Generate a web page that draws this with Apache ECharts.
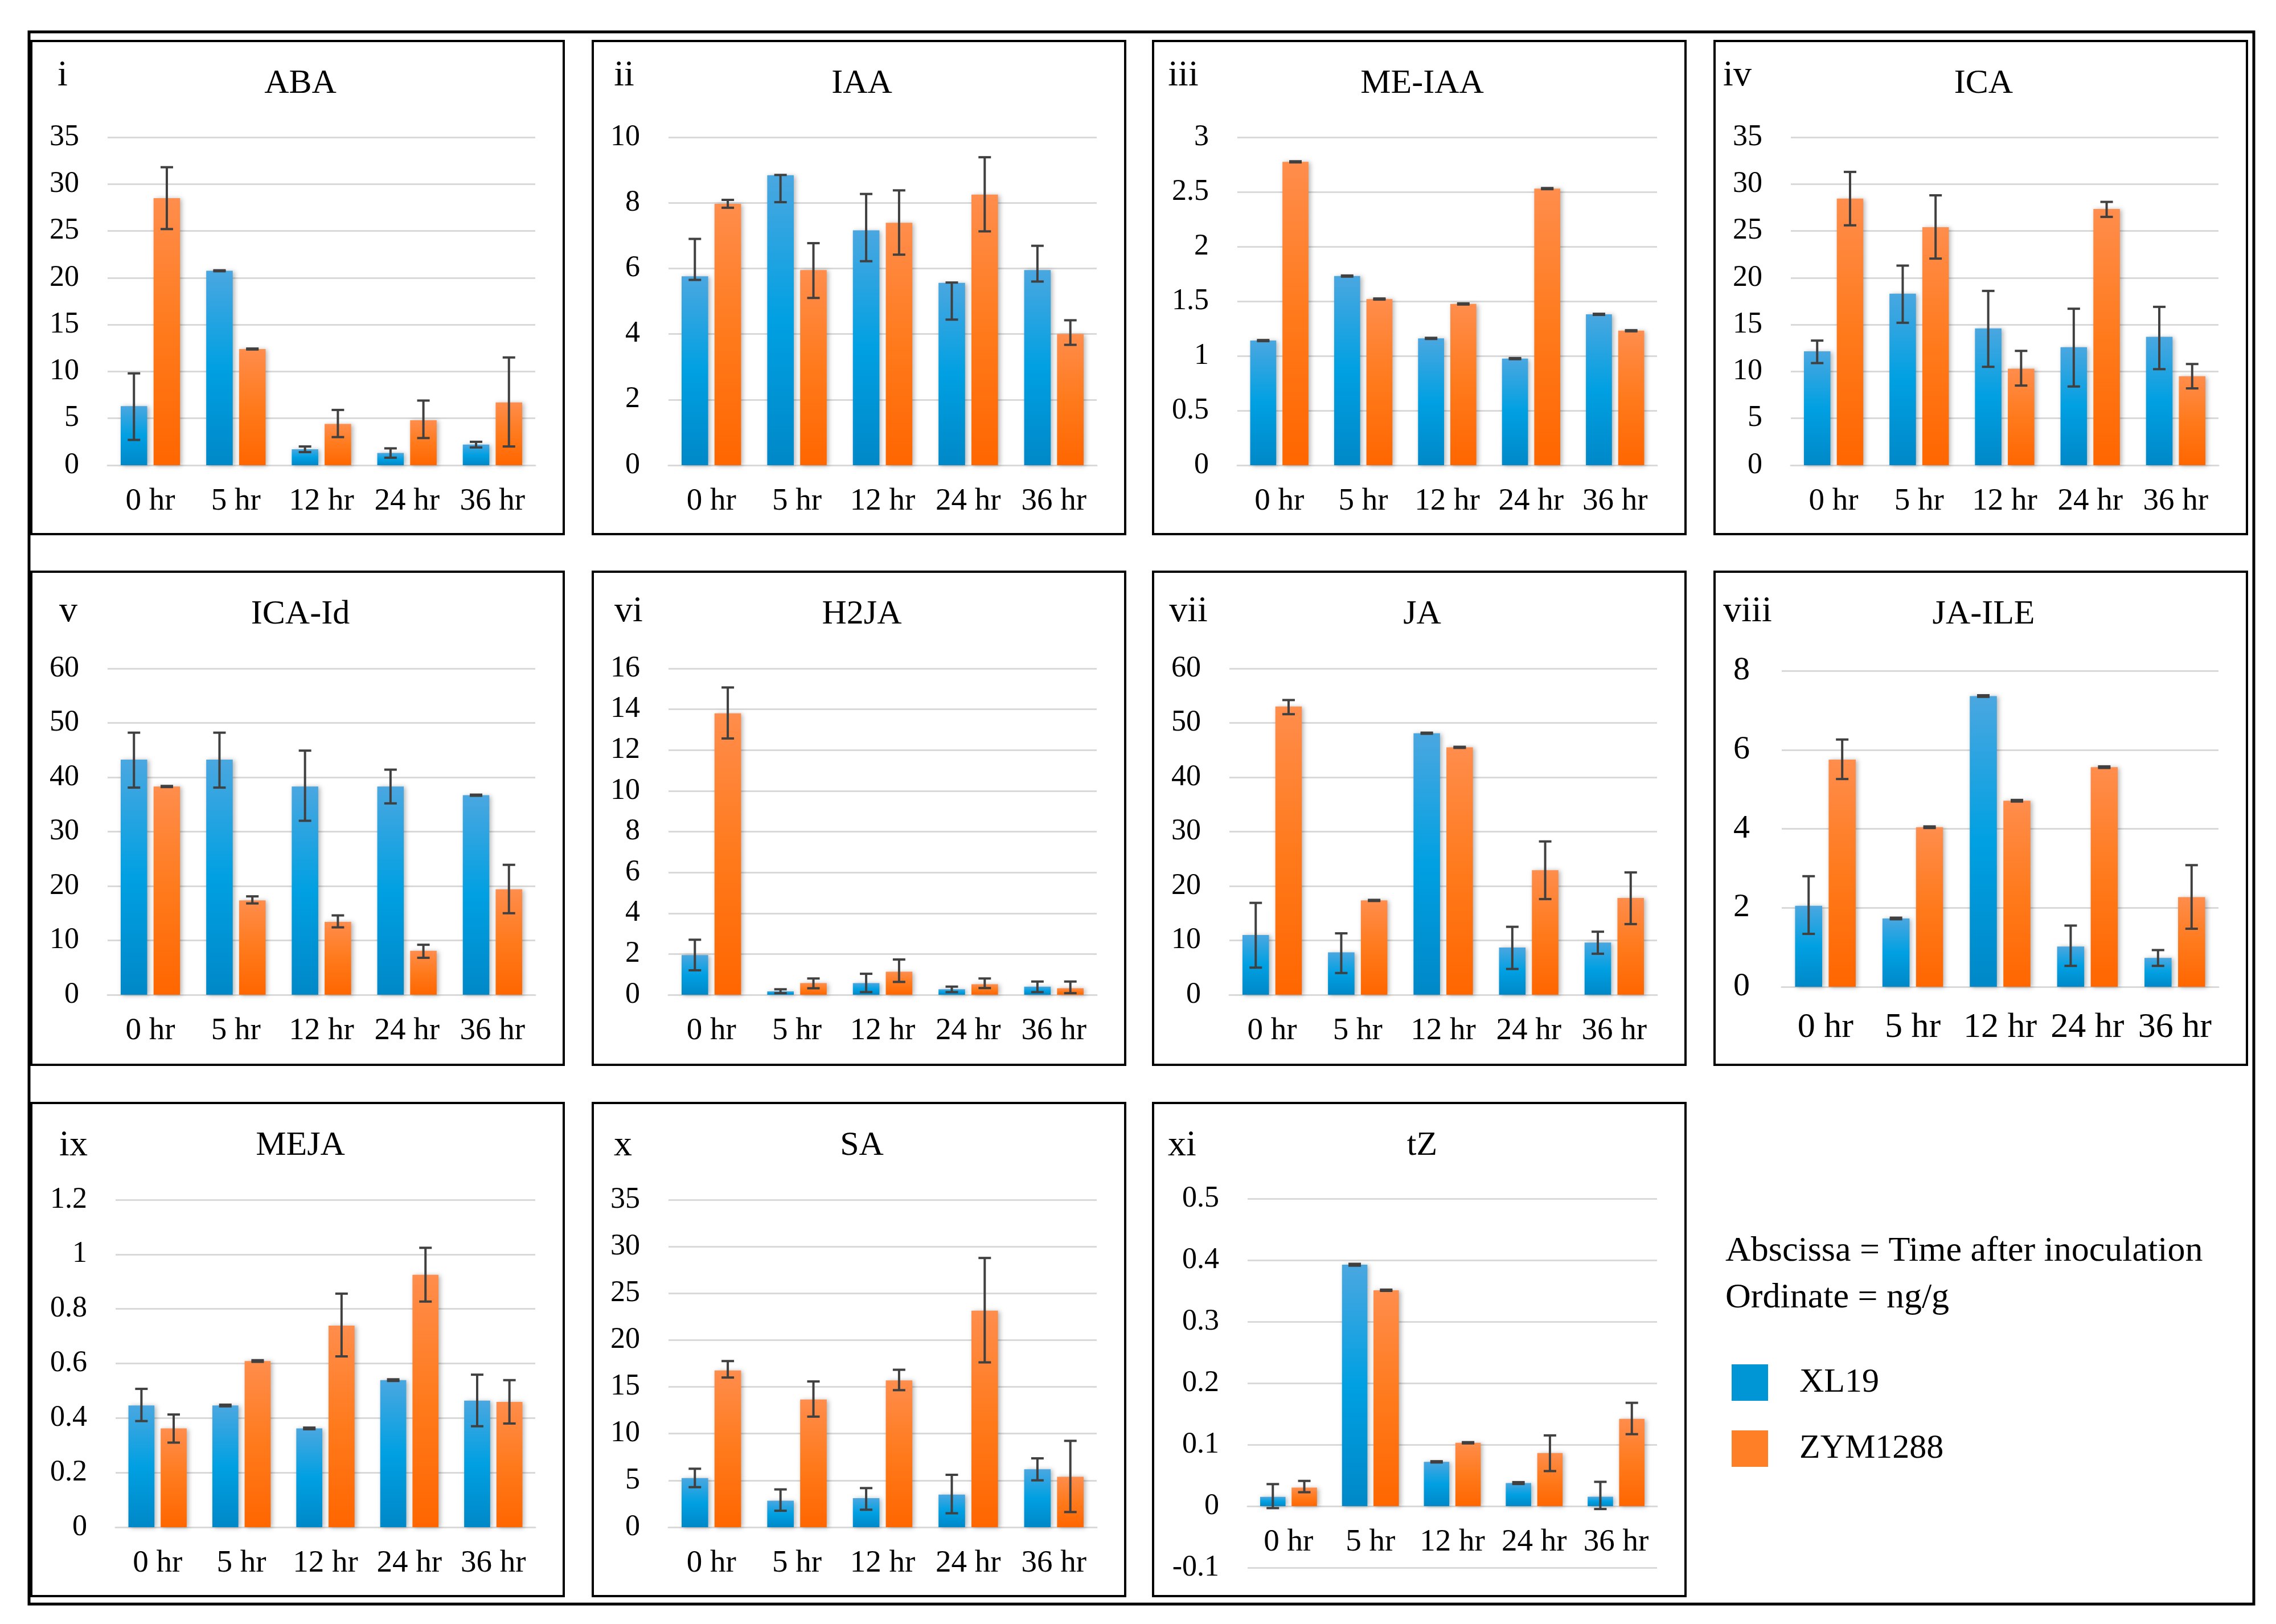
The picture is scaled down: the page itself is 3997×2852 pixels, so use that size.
<!DOCTYPE html>
<html><head><meta charset="utf-8">
<script src="https://cdn.jsdelivr.net/npm/echarts@6/dist/echarts.min.js"></script>
<style>html,body{margin:0;padding:0;background:#fff}#c{width:3997px;height:2852px}</style>
</head><body><div id="c"></div>
<script>
// ---------------- data ----------------
const CATEGORIES = ['0 hr', '5 hr', '12 hr', '24 hr', '36 hr'];
const HORMONES = ['ABA', 'IAA', 'ME-IAA', 'ICA', 'ICA-Id', 'H2JA', 'JA', 'JA-ILE', 'MEJA', 'SA', 'tZ'];
const PANEL_LABELS = ['i', 'ii', 'iii', 'iv', 'v', 'vi', 'vii', 'viii', 'ix', 'x', 'xi'];
const Y_MIN = [0, 0, 0, 0, 0, 0, 0, 0, 0, 0, -0.1];
const Y_MAX = [35, 10, 3, 35, 60, 16, 60, 8, 1.2, 35, 0.5];
const Y_STEP = [5, 2, 0.5, 5, 10, 2, 10, 2, 0.2, 5, 0.1];
const SERIES_NAMES = ['XL19', 'ZYM1288'];

// means and error-bar ends [low, high]
const ABA_XL19 = [6.3, 20.75, 1.7, 1.3, 2.2];
const ABA_XL19_ERR = [[2.7, 9.8], [20.7, 20.8], [1.4, 2.0], [0.8, 1.8], [1.9, 2.5]];
const ABA_ZYM1288 = [28.5, 12.4, 4.4, 4.8, 6.7];
const ABA_ZYM1288_ERR = [[25.2, 31.8], [12.35, 12.45], [3.0, 5.9], [2.9, 6.9], [2.0, 11.5]];

const IAA_XL19 = [5.76, 8.84, 7.16, 5.56, 5.95];
const IAA_XL19_ERR = [[5.65, 6.9], [8.02, 8.85], [6.22, 8.27], [4.44, 5.57], [5.6, 6.69]];
const IAA_ZYM1288 = [7.97, 5.95, 7.39, 8.25, 4.0];
const IAA_ZYM1288_ERR = [[7.85, 8.09], [5.1, 6.77], [6.42, 8.38], [7.13, 9.39], [3.67, 4.42]];

const MEIAA_XL19 = [1.14, 1.73, 1.16, 0.975, 1.38];
const MEIAA_XL19_ERR = [[1.135, 1.145], [1.725, 1.735], [1.155, 1.165], [0.97, 0.98], [1.375, 1.385]];
const MEIAA_ZYM1288 = [2.775, 1.52, 1.475, 2.53, 1.23];
const MEIAA_ZYM1288_ERR = [[2.77, 2.78], [1.515, 1.525], [1.47, 1.48], [2.525, 2.535], [1.225, 1.235]];

const ICA_XL19 = [12.15, 18.3, 14.6, 12.6, 13.7];
const ICA_XL19_ERR = [[10.9, 13.3], [15.2, 21.3], [10.5, 18.6], [8.4, 16.7], [10.25, 16.9]];
const ICA_ZYM1288 = [28.45, 25.4, 10.3, 27.35, 9.5];
const ICA_ZYM1288_ERR = [[25.6, 31.3], [22.05, 28.8], [8.5, 12.2], [26.5, 28.1], [8.2, 10.8]];

const ICAID_XL19 = [43.25, 43.25, 38.3, 38.3, 36.7];
const ICAID_XL19_ERR = [[38.1, 48.2], [38.1, 48.2], [32.0, 44.9], [35.2, 41.4], [36.6, 36.8]];
const ICAID_ZYM1288 = [38.3, 17.35, 13.4, 8.1, 19.4];
const ICAID_ZYM1288_ERR = [[38.2, 38.4], [16.8, 18.1], [12.4, 14.6], [6.8, 9.2], [15.0, 23.9]];

const H2JA_XL19 = [1.95, 0.17, 0.57, 0.27, 0.4];
const H2JA_XL19_ERR = [[1.2, 2.7], [0.08, 0.27], [0.13, 1.03], [0.13, 0.4], [0.13, 0.65]];
const H2JA_ZYM1288 = [13.8, 0.57, 1.13, 0.52, 0.32];
const H2JA_ZYM1288_ERR = [[12.57, 15.07], [0.32, 0.8], [0.63, 1.73], [0.33, 0.8], [0.08, 0.65]];

const JA_XL19 = [11.0, 7.8, 48.1, 8.7, 9.6];
const JA_XL19_ERR = [[5.0, 16.9], [4.0, 11.3], [48.0, 48.2], [4.75, 12.5], [7.55, 11.6]];
const JA_ZYM1288 = [53.0, 17.35, 45.5, 22.9, 17.8];
const JA_ZYM1288_ERR = [[51.6, 54.2], [17.25, 17.45], [45.4, 45.6], [17.6, 28.2], [13.0, 22.5]];

const JAILE_XL19 = [2.05, 1.73, 7.36, 1.02, 0.73];
const JAILE_XL19_ERR = [[1.34, 2.8], [1.71, 1.75], [7.34, 7.38], [0.53, 1.55], [0.53, 0.93]];
const JAILE_ZYM1288 = [5.75, 4.04, 4.71, 5.56, 2.27];
const JAILE_ZYM1288_ERR = [[5.26, 6.26], [4.02, 4.06], [4.69, 4.73], [5.54, 5.58], [1.47, 3.08]];

const MEJA_XL19 = [0.446, 0.446, 0.362, 0.539, 0.464];
const MEJA_XL19_ERR = [[0.389, 0.507], [0.443, 0.449], [0.359, 0.365], [0.536, 0.542], [0.37, 0.559]];
const MEJA_ZYM1288 = [0.362, 0.609, 0.739, 0.925, 0.459];
const MEJA_ZYM1288_ERR = [[0.31, 0.413], [0.606, 0.612], [0.626, 0.856], [0.827, 1.024], [0.38, 0.539]];

const SA_XL19 = [5.25, 2.83, 3.1, 3.49, 6.19];
const SA_XL19_ERR = [[4.28, 6.25], [1.76, 4.04], [1.87, 4.18], [1.49, 5.6], [5.01, 7.36]];
const SA_ZYM1288 = [16.76, 13.65, 15.69, 23.15, 5.39];
const SA_ZYM1288_ERR = [[16.0, 17.76], [11.82, 15.58], [14.65, 16.83], [17.62, 28.78], [1.62, 9.23]];

const TZ_XL19 = [0.015, 0.3926, 0.072, 0.0374, 0.0153];
const TZ_XL19_ERR = [[-0.0032, 0.0358], [0.391, 0.394], [0.071, 0.073], [0.036, 0.039], [-0.0047, 0.0395]];
const TZ_ZYM1288 = [0.030, 0.351, 0.103, 0.0863, 0.142];
const TZ_ZYM1288_ERR = [[0.0226, 0.041], [0.35, 0.352], [0.102, 0.104], [0.057, 0.115], [0.117, 0.168]];

const XL19_VALUES = [ABA_XL19, IAA_XL19, MEIAA_XL19, ICA_XL19, ICAID_XL19, H2JA_XL19, JA_XL19, JAILE_XL19, MEJA_XL19, SA_XL19, TZ_XL19];
const XL19_ERRORS = [ABA_XL19_ERR, IAA_XL19_ERR, MEIAA_XL19_ERR, ICA_XL19_ERR, ICAID_XL19_ERR, H2JA_XL19_ERR, JA_XL19_ERR, JAILE_XL19_ERR, MEJA_XL19_ERR, SA_XL19_ERR, TZ_XL19_ERR];
const ZYM_VALUES = [ABA_ZYM1288, IAA_ZYM1288, MEIAA_ZYM1288, ICA_ZYM1288, ICAID_ZYM1288, H2JA_ZYM1288, JA_ZYM1288, JAILE_ZYM1288, MEJA_ZYM1288, SA_ZYM1288, TZ_ZYM1288];
const ZYM_ERRORS = [ABA_ZYM1288_ERR, IAA_ZYM1288_ERR, MEIAA_ZYM1288_ERR, ICA_ZYM1288_ERR, ICAID_ZYM1288_ERR, H2JA_ZYM1288_ERR, JA_ZYM1288_ERR, JAILE_ZYM1288_ERR, MEJA_ZYM1288_ERR, SA_ZYM1288_ERR, TZ_ZYM1288_ERR];

// ---------------- layout / style ----------------
const FONT = '"Liberation Serif", "Times New Roman", serif';
const COL_X = [55, 1041, 2025, 3011];
const ROW_Y = [72, 1004, 1937];
const PANEL_W = 935, PANEL_H = 866;
const LAYOUT = [
  {c: 0, r: 0, gl: 134, gt: 169, gb: 745, lx: 55, lb: 79, fs: 1},
  {c: 1, r: 0, gl: 133, gt: 169, gb: 745, lx: 55, lb: 79, fs: 1},
  {c: 2, r: 0, gl: 148, gt: 169, gb: 745, lx: 53, lb: 79, fs: 1},
  {c: 3, r: 0, gl: 134, gt: 169, gb: 745, lx: 40, lb: 79, fs: 1},
  {c: 0, r: 1, gl: 134, gt: 170, gb: 743, lx: 65, lb: 88, fs: 1},
  {c: 1, r: 1, gl: 133, gt: 170, gb: 743, lx: 63, lb: 88, fs: 1},
  {c: 2, r: 1, gl: 134, gt: 170, gb: 743, lx: 62, lb: 88, fs: 1},
  {c: 3, r: 1, gl: 118, gt: 174, gb: 729, lx: 58, lb: 88, fs: 1.12},
  {c: 0, r: 2, gl: 148, gt: 170, gb: 745, lx: 74, lb: 93, fs: 1},
  {c: 1, r: 2, gl: 133, gt: 170, gb: 745, lx: 53, lb: 93, fs: 1},
  {c: 2, r: 2, gl: 166, gt: 168, gb: 816, lx: 51, lb: 93, fs: 1}
];
const GRID_RIGHT = 885;
const BAR_W = 0.31, BAR_GAP = 0.24;
const BLUE = {type: 'linear', x: 0, y: 0, x2: 0, y2: 1, colorStops: [
  {offset: 0, color: '#4aa7e0'}, {offset: 0.5, color: '#00a0e2'}, {offset: 1, color: '#0088c8'}]};
const ORANGE = {type: 'linear', x: 0, y: 0, x2: 0, y2: 1, colorStops: [
  {offset: 0, color: '#ff8d4c'}, {offset: 0.5, color: '#ff7a1c'}, {offset: 1, color: '#ff6600'}]};

function errRender(side) {
  return function (params, api) {
    const c = api.value(0);
    const lo = api.coord([c, api.value(1)]);
    const hi = api.coord([c, api.value(2)]);
    const band = api.size([1, 0])[0];
    const bw = band * BAR_W, gap = bw * BAR_GAP;
    const x = lo[0] + side * (bw + gap) / 2;
    const cap = 11;
    const st = {stroke: '#404040', lineWidth: 4};
    return {type: 'group', children: [
      {type: 'line', shape: {x1: x, y1: lo[1], x2: x, y2: hi[1]}, style: st},
      {type: 'line', shape: {x1: x - cap, y1: lo[1], x2: x + cap, y2: lo[1]}, style: st},
      {type: 'line', shape: {x1: x - cap, y1: hi[1], x2: x + cap, y2: hi[1]}, style: st}
    ]};
  };
}

const grids = [], xAxes = [], yAxes = [], series = [], titles = [], graphics = [];

graphics.push({type: 'rect', shape: {x: 51, y: 56, width: 3907, height: 2761},
  style: {fill: 'none', stroke: '#000', lineWidth: 5}, z: 1});

HORMONES.forEach(function (name, i) {
  const L = LAYOUT[i];
  const px = COL_X[L.c], py = ROW_Y[L.r];
  const gh = L.gb - L.gt;
  // lift the category axis to the zero line when the value axis goes below zero
  const zeroLift = Y_MIN[i] < 0 ? -(0 - Y_MIN[i]) / (Y_MAX[i] - Y_MIN[i]) * gh : 0;
  graphics.push({type: 'rect', shape: {x: px, y: py, width: PANEL_W, height: PANEL_H},
    style: {fill: 'none', stroke: '#000', lineWidth: 4}, z: 1});
  graphics.push({type: 'text', x: px + L.lx, y: py + L.lb + 14, z: 5,
    style: {text: PANEL_LABELS[i], fontSize: 64, fontFamily: FONT, fill: '#000',
      align: 'center', verticalAlign: 'bottom', textAlign: 'center', textVerticalAlign: 'bottom'}});
  titles.push({text: name, left: px + PANEL_W / 2, top: py + 40, textAlign: 'center',
    textStyle: {fontFamily: FONT, fontSize: 60, fontWeight: 'normal', color: '#000'}});
  grids.push({left: px + L.gl, top: py + L.gt, width: GRID_RIGHT - L.gl, height: gh, containLabel: false});
  xAxes.push({type: 'category', gridIndex: i, data: CATEGORIES, offset: zeroLift,
    axisLine: {show: true, onZero: false, lineStyle: {color: '#d9d9d9', width: 3}},
    axisTick: {show: false},
    axisLabel: {interval: 0, fontFamily: FONT, fontSize: Math.round(55 * L.fs), color: '#000', margin: 36 * L.fs}});
  yAxes.push({type: 'value', gridIndex: i, min: Y_MIN[i], max: Y_MAX[i], interval: Y_STEP[i],
    axisLine: {show: false}, axisTick: {show: false},
    splitLine: {show: true, lineStyle: {color: '#d9d9d9', width: 3}},
    axisLabel: {fontFamily: FONT, fontSize: Math.round(52 * L.fs), color: '#000', margin: 50 * L.fs}});
  const shadow = {shadowBlur: 8, shadowColor: 'rgba(0,0,0,0.3)', shadowOffsetX: 3, shadowOffsetY: 1};
  series.push({type: 'bar', name: SERIES_NAMES[0], xAxisIndex: i, yAxisIndex: i, data: XL19_VALUES[i],
    barWidth: (BAR_W * 100) + '%', barGap: (BAR_GAP * 100) + '%',
    itemStyle: Object.assign({color: BLUE}, shadow)});
  series.push({type: 'bar', name: SERIES_NAMES[1], xAxisIndex: i, yAxisIndex: i, data: ZYM_VALUES[i],
    barWidth: (BAR_W * 100) + '%', barGap: (BAR_GAP * 100) + '%',
    itemStyle: Object.assign({color: ORANGE}, shadow)});
  series.push({type: 'custom', name: SERIES_NAMES[0] + ' error', xAxisIndex: i, yAxisIndex: i, z: 5,
    renderItem: errRender(-1), encode: {x: 0, y: [1, 2]},
    data: XL19_ERRORS[i].map(function (e, k) { return [k, e[0], e[1]]; })});
  series.push({type: 'custom', name: SERIES_NAMES[1] + ' error', xAxisIndex: i, yAxisIndex: i, z: 5,
    renderItem: errRender(1), encode: {x: 0, y: [1, 2]},
    data: ZYM_ERRORS[i].map(function (e, k) { return [k, e[0], e[1]]; })});
});

graphics.push({type: 'text', x: 3030, y: 2198, z: 5,
  style: {text: 'Abscissa = Time after inoculation', fontSize: 62, fontFamily: FONT, fill: '#000',
    align: 'left', verticalAlign: 'middle', textAlign: 'left', textVerticalAlign: 'middle'}});
graphics.push({type: 'text', x: 3030, y: 2280, z: 5,
  style: {text: 'Ordinate = ng/g', fontSize: 62, fontFamily: FONT, fill: '#000',
    align: 'left', verticalAlign: 'middle', textAlign: 'left', textVerticalAlign: 'middle'}});

const chart = echarts.init(document.getElementById('c'), null, {renderer: 'canvas'});
chart.setOption({
  animation: false,
  backgroundColor: '#fff',
  title: titles,
  legend: {orient: 'vertical', left: 3036, top: 2391, itemWidth: 64, itemHeight: 64, itemGap: 52,
    icon: 'rect', selectedMode: false,
    data: [{name: 'XL19', itemStyle: {color: '#0096d6'}}, {name: 'ZYM1288', itemStyle: {color: '#ff7f27'}}],
    textStyle: {fontFamily: FONT, fontSize: 60, color: '#000', padding: [0, 0, 0, 50]}},
  grid: grids,
  xAxis: xAxes,
  yAxis: yAxes,
  series: series,
  graphic: graphics
});
</script></body></html>
